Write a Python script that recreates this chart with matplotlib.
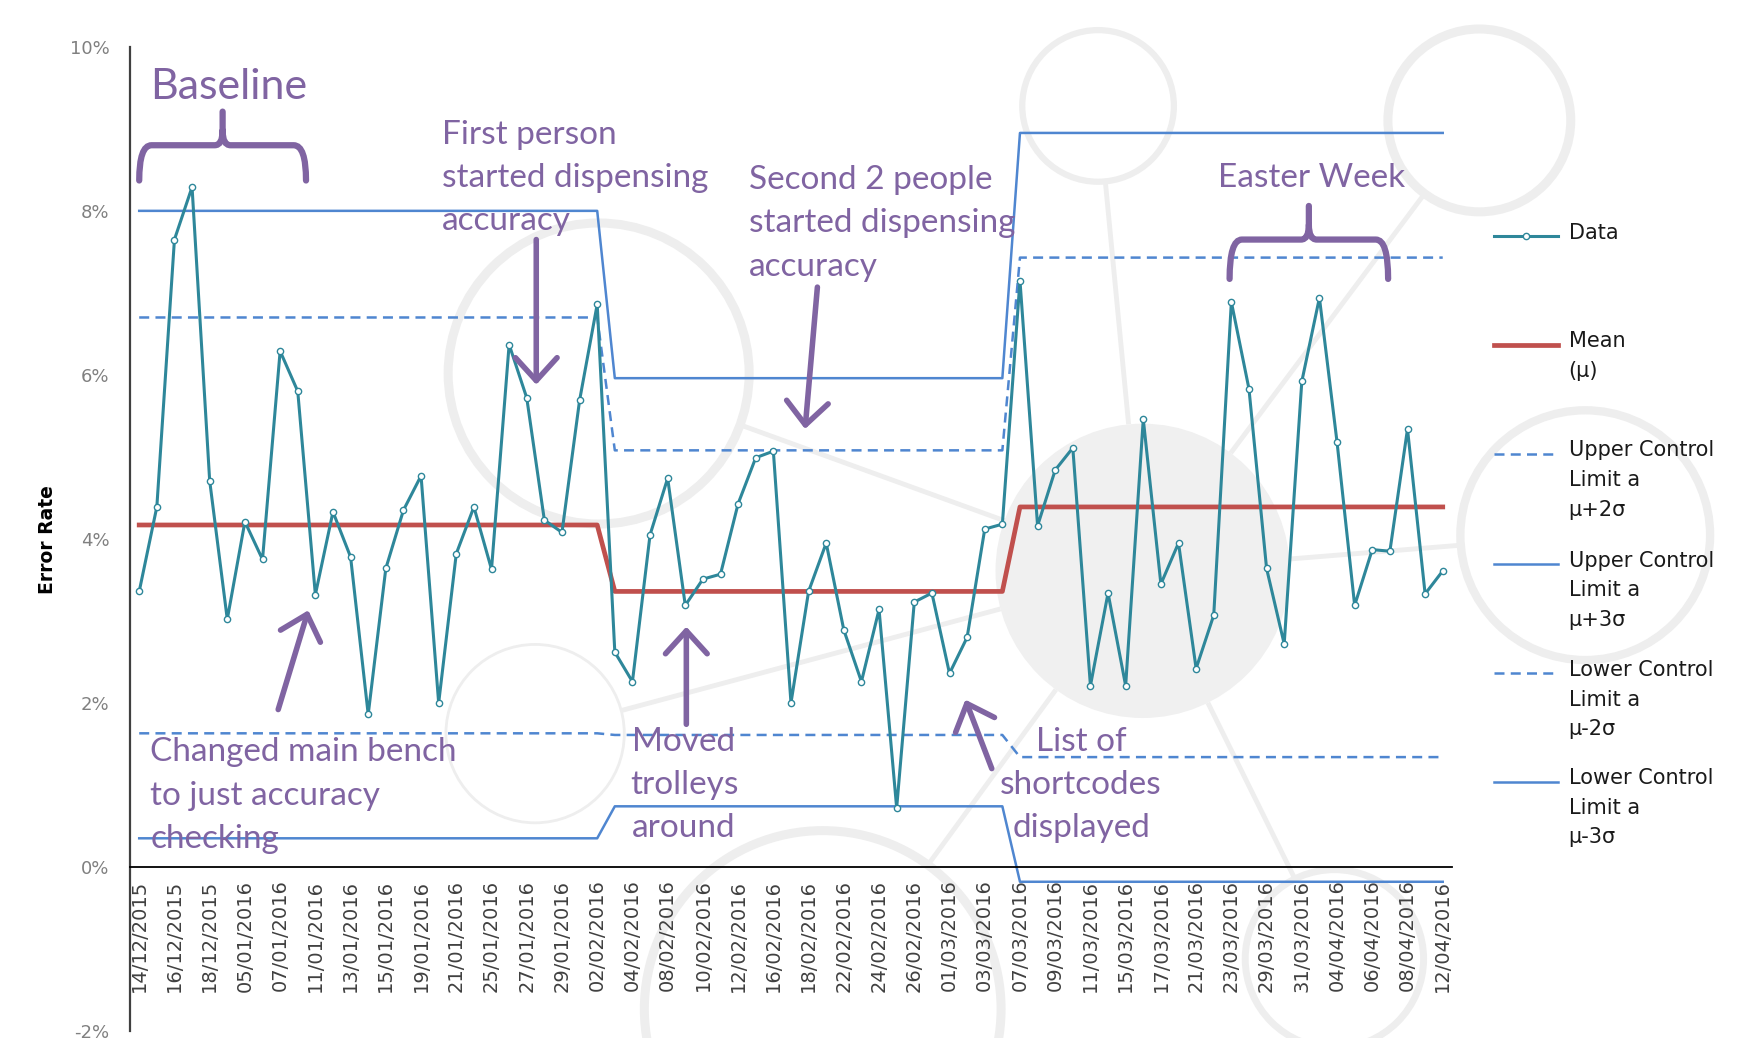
import numpy as np
import matplotlib
matplotlib.use("Agg")
import matplotlib.pyplot as plt
from matplotlib.path import Path
from matplotlib.patches import PathPatch, Circle, FancyArrowPatch
from matplotlib.lines import Line2D

# error rate per sample (%), 75 samples
error_rate = [3.36, 4.39, 7.65, 8.29, 4.71, 3.02, 4.21, 3.75, 6.29, 5.80,
              3.32, 4.33, 3.78, 1.86, 3.64, 4.35, 4.77, 2.00, 3.82, 4.39,
              3.63, 6.37, 5.72, 4.23, 4.08, 5.69, 6.86, 2.62, 2.26, 4.05,
              4.74, 3.19, 3.51, 3.57, 4.43, 4.99, 5.07, 2.00, 3.36, 3.95,
              2.89, 2.26, 3.14, 0.72, 3.23, 3.34, 2.36, 2.80, 4.12, 4.18,
              7.15, 4.16, 4.84, 5.11, 2.21, 3.34, 2.21, 5.46, 3.45, 3.95,
              2.42, 3.07, 6.89, 5.83, 3.64, 2.72, 5.92, 6.94, 5.18, 3.19,
              3.87, 3.85, 5.34, 3.33, 3.61]

# control limits per phase (baseline, after 1st change, after 2nd change)
phase_len = [27, 23, 25]
mean_val = [4.17, 3.36, 4.39]
ucl3_val = [8.00, 5.96, 8.95]
ucl2_val = [6.70, 5.08, 7.43]
lcl2_val = [1.63, 1.61, 1.34]
lcl3_val = [0.35, 0.74, -0.18]

# every second sample is labelled on the axis
tick_labels = ["14/12/2015", "16/12/2015", "18/12/2015", "05/01/2016", "07/01/2016",
               "11/01/2016", "13/01/2016", "15/01/2016", "19/01/2016", "21/01/2016",
               "25/01/2016", "27/01/2016", "29/01/2016", "02/02/2016", "04/02/2016",
               "08/02/2016", "10/02/2016", "12/02/2016", "16/02/2016", "18/02/2016",
               "22/02/2016", "24/02/2016", "26/02/2016", "01/03/2016", "03/03/2016",
               "07/03/2016", "09/03/2016", "11/03/2016", "15/03/2016", "17/03/2016",
               "21/03/2016", "23/03/2016", "29/03/2016", "31/03/2016", "04/04/2016",
               "06/04/2016", "08/04/2016", "12/04/2016"]

TEAL = "#2e879a"
RED = "#c0504d"
BLUE = "#4f86d0"
PURPLE = "#8064a2"
WM = "#eeeeee"
ANN_FONT = ["Lato", "DejaVu Sans"]

x = np.arange(len(error_rate))
mean = np.repeat(mean_val, phase_len)
ucl3 = np.repeat(ucl3_val, phase_len)
ucl2 = np.repeat(ucl2_val, phase_len)
lcl2 = np.repeat(lcl2_val, phase_len)
lcl3 = np.repeat(lcl3_val, phase_len)

fig = plt.figure(figsize=(17.48, 10.38), dpi=100)

# background layer in (shrunk) pixel coordinates: watermark, legend, y label
bg = fig.add_axes([0, 0, 1, 1], zorder=0)
bg.set_xlim(0, 1568)
bg.set_ylim(931, 0)
bg.axis("off")

rings = [((537, 335), 135, 6.5), ((1327, 108), 82, 6.5), ((1422, 480), 112, 6),
         ((985, 95), 68, 4.5), ((738, 905), 160, 6.5), ((1197, 860), 80, 5),
         ((480, 658), 80, 2)]
hub = ((1025, 512), 132)
bg.add_patch(Circle(hub[0], hub[1], color="#f0f0f0", lw=0, zorder=0))
for c, r, w in rings:
    bg.add_patch(Circle(c, r, fill=False, ec=WM, lw=w, zorder=0))
    v = np.array(hub[0]) - np.array(c)
    u = v / np.hypot(*v)
    p0 = np.array(c) + u * r
    p1 = np.array(hub[0]) - u * hub[1]
    bg.plot([p0[0], p1[0]], [p0[1], p1[1]], color=WM, lw=3.5, zorder=0,
            solid_capstyle="butt")

# main chart
ax = fig.add_axes([0.0746, 0.0067, 0.7558, 0.9482], zorder=1)
ax.set_facecolor("none")
for s in ("top", "right"):
    ax.spines[s].set_visible(False)
ax.spines["bottom"].set_position(("data", 0))
ax.spines["bottom"].set_linewidth(1.3)
ax.spines["left"].set_linewidth(1.6)
ax.spines["left"].set_color("#404040")

ax.plot(x, ucl3, color=BLUE, lw=1.8, zorder=2)
ax.plot(x, ucl2, color=BLUE, lw=1.8, ls=(0, (4, 2.5)), zorder=2)
ax.plot(x, lcl2, color=BLUE, lw=1.8, ls=(0, (4, 2.5)), zorder=2)
ax.plot(x, lcl3, color=BLUE, lw=1.8, zorder=2)
ax.plot(x, mean, color=RED, lw=3.4, zorder=3)
ax.plot(x, error_rate, color=TEAL, lw=2.2, marker="o", ms=4.5,
        mfc="white", mec=TEAL, mew=1.0, zorder=4)

ax.set_xlim(-0.5, len(x) - 0.5)
ax.set_ylim(-2, 10)
ax.set_yticks(np.arange(-2, 11, 2))
ax.set_yticklabels([f"{v}%" for v in range(-2, 11, 2)])
ax.set_xticks(x[::2])
ax.set_xticklabels(tick_labels, rotation=90, va="top", ha="center")
ax.tick_params(axis="y", length=0, pad=15, labelsize=13, labelcolor="#808080")
ax.tick_params(axis="x", length=0, pad=9, labelsize=14, labelcolor="#404040")

# braces
def brace(x0, x1, ytop, ybot, yspike):
    xm = (x0 + x1) / 2
    verts = [(x0, ybot), (x0, ytop), (x0 + 0.7, ytop),
             (xm - 0.45, ytop), (xm, ytop), (xm, ytop + 0.18),
             (xm, yspike),
             (xm, ytop + 0.18), (xm, ytop), (xm + 0.45, ytop),
             (x1 - 0.7, ytop), (x1, ytop), (x1, ybot)]
    codes = [Path.MOVETO, Path.CURVE3, Path.CURVE3,
             Path.LINETO, Path.CURVE3, Path.CURVE3,
             Path.LINETO,
             Path.MOVETO, Path.CURVE3, Path.CURVE3,
             Path.LINETO, Path.CURVE3, Path.CURVE3]
    ax.add_patch(PathPatch(Path(verts, codes), fill=False, ec=PURPLE,
                           lw=4.5, capstyle="round", zorder=5))

brace(0.0, 9.47, 8.80, 8.37, 9.21)
brace(61.9, 70.9, 7.65, 7.17, 8.06)

# arrows
arrows = [((22.54, 7.65), (22.54, 5.88)), ((38.5, 7.07), (37.8, 5.34)),
          ((7.89, 1.92), (9.6, 3.13)), ((31.06, 1.74), (31.06, 2.93)),
          ((48.4, 1.20), (46.9, 2.04))]
for tail, head in arrows:
    ax.add_patch(FancyArrowPatch(tail, head, arrowstyle="->,head_length=0.55,head_width=0.5",
                                 mutation_scale=30, color=PURPLE, lw=4,
                                 shrinkA=0, shrinkB=0, zorder=5))

# annotations (y is the middle of the block)
ann_kw = dict(color=PURPLE, family=ANN_FONT, va="center", zorder=6,
              linespacing=1.56, fontsize=24)
ax.text(0.63, 9.51, "Baseline", **{**ann_kw, "fontsize": 31})
ax.text(17.17, 8.40, "First person\nstarted dispensing\naccuracy", **ann_kw)
ax.text(34.6, 7.85, "Second 2 people\nstarted dispensing\naccuracy", **ann_kw)
ax.text(61.24, 8.40, "Easter Week", **ann_kw)
ax.text(0.63, 0.87, "Changed main bench\nto just accuracy\nchecking", **ann_kw)
ax.text(30.93, 1.0, "Moved\ntrolleys\naround", ha="center",
        multialignment="center", **ann_kw)
ax.text(53.47, 1.0, "List of\nshortcodes\ndisplayed", ha="center",
        multialignment="center", **ann_kw)

# y axis title
bg.text(43, 484, "Error Rate", rotation=90, ha="center", va="center",
        fontsize=13.5, fontweight="bold",
        family=["Liberation Sans Narrow", "DejaVu Sans"])

# legend drawn at the right
leg_items = [
    ("Data", dict(color=TEAL, lw=2.2, marker="o", ms=4.5, mfc="white", mec=TEAL,
                  markevery=[1])),
    ("Mean\n(\u00b5)", dict(color=RED, lw=3.4)),
    ("Upper Control\nLimit a\n\u00b5+2\u03c3", dict(color=BLUE, lw=1.8, ls=(0, (4, 2.5)))),
    ("Upper Control\nLimit a\n\u00b5+3\u03c3", dict(color=BLUE, lw=1.8)),
    ("Lower Control\nLimit a\n\u00b5-2\u03c3", dict(color=BLUE, lw=1.8, ls=(0, (4, 2.5)))),
    ("Lower Control\nLimit a\n\u00b5-3\u03c3", dict(color=BLUE, lw=1.8)),
]
leg_y = [212, 309, 407, 506, 604, 701]
for (label, kw), ly in zip(leg_items, leg_y):
    bg.add_line(Line2D([1340, 1369, 1398], [ly, ly, ly], **kw))
    bg.text(1407, ly - 12, label, fontsize=15, va="top", ha="left",
            color="#1a1a1a", linespacing=1.6)

fig.savefig("out.png", dpi=100)
